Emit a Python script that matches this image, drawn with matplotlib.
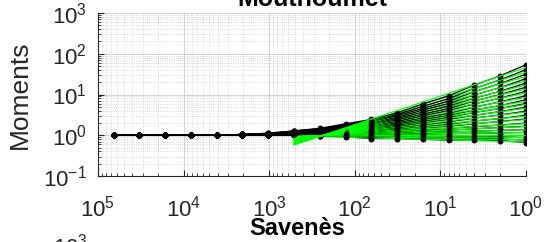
import numpy as np
import matplotlib.pyplot as plt

plt.rcParams['font.family'] = ['Liberation Sans', 'DejaVu Sans']
plt.rcParams['mathtext.fontset'] = 'custom'
plt.rcParams['mathtext.rm'] = 'Liberation Sans'
plt.rcParams['mathtext.it'] = 'Liberation Sans:italic'
plt.rcParams['mathtext.bf'] = 'Liberation Sans:bold'

# scales (resolution), 2^0 ... 2^16
scales = [1, 2, 4, 8, 16, 32, 64, 128, 256, 512, 1024, 2048,
          4096, 8192, 16384, 32768, 65536]

# log10 of the normalised moments, one row per moment order (top to bottom),
# one column per scale
log_moments = [
    [1.73, 1.46, 1.23, 0.97, 0.77, 0.55, 0.39, 0.28, 0.17, 0.11, 0.05, 0.02, 0, 0, 0, 0, 0],
    [1.61, 1.36, 1.15, 0.90, 0.71, 0.51, 0.36, 0.26, 0.16, 0.10, 0.05, 0.02, 0, 0, 0, 0, 0],
    [1.50, 1.27, 1.07, 0.84, 0.66, 0.48, 0.34, 0.24, 0.15, 0.10, 0.04, 0.02, 0, 0, 0, 0, 0],
    [1.39, 1.17, 0.99, 0.78, 0.62, 0.44, 0.31, 0.22, 0.14, 0.09, 0.04, 0.02, 0, 0, 0, 0, 0],
    [1.28, 1.08, 0.91, 0.72, 0.57, 0.41, 0.29, 0.20, 0.13, 0.08, 0.04, 0.02, 0, 0, 0, 0, 0],
    [1.18, 1.00, 0.84, 0.66, 0.52, 0.38, 0.27, 0.19, 0.12, 0.08, 0.03, 0.01, 0, 0, 0, 0, 0],
    [1.08, 0.91, 0.77, 0.61, 0.48, 0.34, 0.24, 0.17, 0.11, 0.07, 0.03, 0.01, 0, 0, 0, 0, 0],
    [0.97, 0.82, 0.69, 0.54, 0.43, 0.31, 0.22, 0.15, 0.10, 0.06, 0.03, 0.01, 0, 0, 0, 0, 0],
    [0.87, 0.73, 0.62, 0.49, 0.39, 0.28, 0.20, 0.14, 0.09, 0.06, 0.03, 0.01, 0, 0, 0, 0, 0],
    [0.78, 0.66, 0.56, 0.44, 0.35, 0.25, 0.18, 0.12, 0.08, 0.05, 0.02, 0.01, 0, 0, 0, 0, 0],
    [0.69, 0.58, 0.49, 0.39, 0.31, 0.22, 0.16, 0.11, 0.07, 0.04, 0.02, 0.01, 0, 0, 0, 0, 0],
    [0.59, 0.50, 0.42, 0.33, 0.26, 0.19, 0.13, 0.09, 0.06, 0.04, 0.02, 0.01, 0, 0, 0, 0, 0],
    [0.49, 0.41, 0.35, 0.27, 0.22, 0.16, 0.11, 0.08, 0.05, 0.03, 0.01, 0.01, 0, 0, 0, 0, 0],
    [0.40, 0.34, 0.28, 0.22, 0.18, 0.13, 0.09, 0.06, 0.04, 0.03, 0.01, 0.00, 0, 0, 0, 0, 0],
    [0.30, 0.25, 0.21, 0.17, 0.13, 0.10, 0.07, 0.05, 0.03, 0.02, 0.01, 0.00, 0, 0, 0, 0, 0],
    [0.22, 0.19, 0.16, 0.12, 0.10, 0.07, 0.05, 0.03, 0.02, 0.01, 0.01, 0.00, 0, 0, 0, 0, 0],
    [0.14, 0.12, 0.10, 0.08, 0.06, 0.04, 0.03, 0.02, 0.01, 0.01, 0.00, 0.00, 0, 0, 0, 0, 0],
    [0.07, 0.06, 0.05, 0.04, 0.03, 0.02, 0.02, 0.01, 0.01, 0.00, 0.00, 0.00, 0, 0, 0, 0, 0],
    [0.00, 0.00, 0.00, 0.00, 0.00, 0.00, 0.00, 0.00, 0.00, 0.00, 0.00, 0.00, 0, 0, 0, 0, 0],
    [-0.06, -0.04, -0.04, -0.04, -0.03, -0.02, -0.02, -0.01, 0.00, 0.00, 0.00, 0.00, 0, 0, 0, 0, 0],
    [-0.12, -0.09, -0.08, -0.08, -0.07, -0.05, -0.05, -0.02, -0.01, 0.00, 0.00, 0.00, 0, 0, 0, 0, 0],
    [-0.18, -0.13, -0.12, -0.12, -0.10, -0.08, -0.08, -0.04, -0.01, 0.00, 0.00, 0.00, 0, 0, 0, 0, 0],
]

n_fit = 8    # fit over scales 1..128
n_draw = 10  # fitted lines drawn over 1..512

fig = plt.figure(figsize=(5.47, 2.42), dpi=100)
ax = fig.add_axes([0.179, 0.2727, 0.7826, 0.6736])

lam = np.array(scales, dtype=float)
# lowest order first, data then its fit
for row in log_moments[::-1]:
    ax.plot(lam, 10 ** np.array(row), '-', color='black', lw=0.9,
            marker='.', markersize=6.5)
    p = np.polyfit(np.log10(lam[:n_fit]), np.array(row[:n_fit]), 1)
    xs = lam[:n_draw]
    ax.plot(xs, 10 ** np.polyval(p, np.log10(xs)), '-', color='#00ff00', lw=0.9)

ax.set_xscale('log')
ax.set_yscale('log')
ax.set_xlim(1e5, 1)
ax.set_ylim(0.1, 1000)

ax.grid(which='major', color='#cccccc', lw=0.6)
ax.grid(which='minor', color='#cccccc', lw=0.6, ls=':')
ax.set_axisbelow(True)
for s in ['top', 'right']:
    ax.spines[s].set_visible(False)
for s in ['left', 'bottom']:
    ax.spines[s].set_color('#262626')
    ax.spines[s].set_linewidth(0.8)
ax.tick_params(which='both', direction='in', colors='#262626', labelsize=16)
ax.tick_params(which='major', length=4)
ax.tick_params(which='minor', length=2)
ax.tick_params(axis='x', pad=14)
ax.tick_params(axis='y', pad=8)

ax.set_ylabel('Moments', fontsize=19, color='#262626', labelpad=8)
ax.set_title('Mouthoumet', fontsize=18, fontweight='bold', pad=5)

# title of the next panel and its top tick label, cut by the figure edge
fig.text(0.544, 0.029, 'Savenès', fontsize=17, fontweight='bold',
         ha='center', va='baseline')
fig.text(0.161, -0.02, r'$\mathdefault{10^{3}}$', fontsize=16, color='#262626',
         ha='right', va='center')

fig.savefig('out.png', dpi=100)
